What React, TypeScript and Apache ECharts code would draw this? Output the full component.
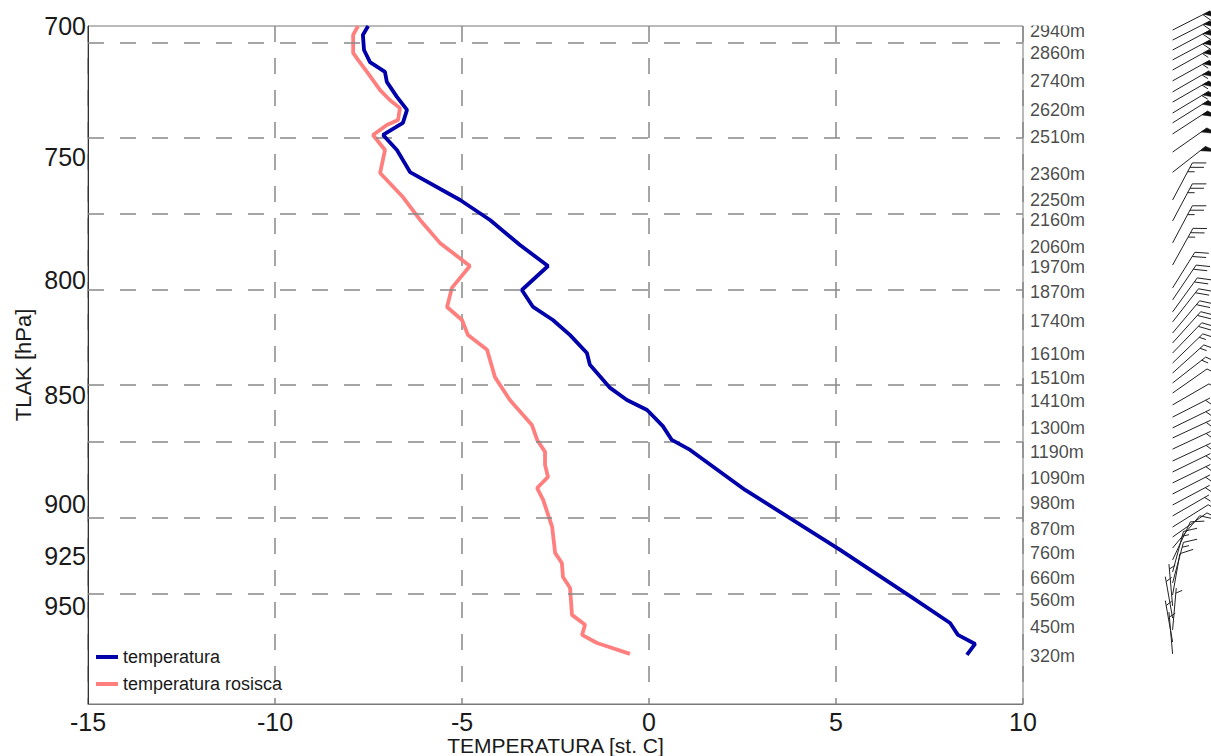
import React, { useEffect, useRef } from 'react';
import * as echarts from 'echarts';

// temperature profile (°C) at pressure levels (hPa)
const tempT = [-7.51, -7.65, -7.62, -7.46, -7.06, -7.01, -6.74, -6.47, -6.58, -7.11, -6.74, -6.39, -5.05, -4.25, -3.45, -2.70, -3.40, -3.10, -2.57, -2.11, -1.66, -1.58, -1.04, -0.59, -0.05, 0.37, 0.61, 1.10, 2.57, 3.64, 5.11, 7.06, 8.05, 8.26, 8.72, 8.50];
const tempP = [700, 703.3, 708.9, 713.4, 717.1, 720.9, 726.6, 731.6, 736.6, 741.3, 747.2, 755.9, 767.1, 775.2, 785.5, 794.2, 804.3, 811.5, 817.1, 823.6, 831.4, 836.6, 846.8, 852.2, 856.7, 864.0, 870.3, 874.9, 893.5, 905.4, 922.1, 945.8, 958.3, 964.3, 968.9, 974.5];

// dew point profile
const dewT = [-7.78, -7.91, -7.91, -7.78, -7.54, -7.19, -6.93, -6.66, -6.71, -7.01, -7.38, -7.06, -7.19, -6.58, -6.12, -5.59, -4.79, -5.27, -5.40, -5.00, -4.84, -4.33, -4.12, -3.72, -3.13, -2.99, -2.78, -2.78, -2.70, -2.99, -2.83, -2.59, -2.51, -2.33, -2.30, -2.11, -2.06, -1.71, -1.79, -1.39, -0.51];
const dewP = [700, 703.3, 710.0, 712.6, 717.1, 724.0, 727.8, 730.9, 735.5, 737.4, 741.3, 747.2, 756.3, 765.9, 775.2, 784.6, 794.2, 803.4, 811.5, 817.1, 823.6, 830.0, 842.0, 852.2, 863.5, 870.3, 875.8, 881.8, 887.4, 892.6, 898.2, 911.0, 923.6, 928.5, 935.4, 940.8, 954.2, 959.2, 964.3, 968.4, 974.0];

// axis
const pressureTicks = [700, 750, 800, 850, 900, 925, 950];
const gridLevelsP = [709.3, 741.3, 775.2, 804.3, 842.0, 875.4, 911.1, 945.8];

// altitude labels
const heightLabels = ['2940m', '2860m', '2740m', '2620m', '2510m', '2360m', '2250m', '2160m', '2060m', '1970m', '1870m', '1740m', '1610m', '1510m', '1410m', '1300m', '1190m', '1090m', '980m', '870m', '760m', '660m', '560m', '450m', '320m'];
const heightP = [701.8, 710.0, 720.5, 731.6, 742.1, 756.7, 767.1, 775.2, 786.3, 794.6, 805.1, 817.5, 831.8, 842.4, 852.6, 864.8, 875.8, 887.9, 899.6, 912.0, 923.6, 935.9, 946.7, 960.4, 975.1];

// wind barbs: pressure (hPa), direction (deg), speed (kt)
const windP = [701.5, 705.2, 708.9, 712.6, 716.4, 720.5, 724.7, 728.6, 732.8, 736.6, 740.9, 748.0, 756.0,
  767.1, 775.6, 784.6, 793.8, 803.4, 808.5, 813.6, 817.9,
  822.7, 827.0, 831.4, 835.8, 840.2, 844.6, 849.1,
  854.4, 859.9, 864.8, 869.4, 874.5, 880.0, 885.1, 890.2, 895.4, 900.6, 905.8, 911.1, 915.9,
  921.2, 927.0, 932.9, 938.3, 944.3, 949.7, 955.8, 961.8, 967.9, 974.0];
const windDir = [63, 63, 62, 62, 61, 61, 60, 60, 59, 58, 57, 55, 52,
  28, 28, 28, 29, 32, 34, 36, 38,
  40, 42, 44, 46, 48, 52, 55,
  60, 63, 64, 65, 65, 65, 64, 64, 63, 62, 60, 58, 55,
  40, 25, 15, 15, 10, 355, 350, 5, 350, 355];
const windSpd = [60, 60, 60, 60, 55, 55, 55, 55, 55, 50, 50, 50, 50,
  25, 25, 25, 25, 20, 20, 20, 20,
  20, 20, 20, 15, 15, 15, 10,
  10, 5, 5, 5, 5, 5, 5, 5, 5, 5, 5, 10, 10,
  10, 10, 15, 15, 10, 5, 5, 5, 5, 5];
const windColumnX = 14;

const FONT = 'Liberation Sans, Arial, Helvetica, sans-serif';
const TXT = '#1a1a1a';
const ln = Math.log;

export default function App() {
  const ref = useRef<HTMLDivElement>(null);
  useEffect(() => {
    const chart = echarts.init(ref.current!, null, { renderer: 'svg' });
    const dash = [16, 16];
    const option: any = {
      animation: false,
      textStyle: { fontFamily: FONT },
      grid: {
        left: 88, right: 188, top: 26, bottom: 52, containLabel: false, outerBoundsMode: 'none',
        show: true, borderColor: '#777', borderWidth: 1, backgroundColor: 'transparent',
      },
      legend: {
        left: 96, top: 648, padding: 0, orient: 'vertical', itemGap: 9, itemWidth: 22, itemHeight: 4,
        selectedMode: false,
        textStyle: { fontSize: 18, color: TXT, fontFamily: FONT },
        data: [{ name: 'temperatura', icon: 'rect' }, { name: 'temperatura rosisca', icon: 'rect' }],
      },
      xAxis: {
        type: 'value', min: -15, max: 10, interval: 5,
        name: 'TEMPERATURA [st. C]', nameLocation: 'middle', nameGap: 31, nameMoveOverlap: false,
        nameTextStyle: { fontSize: 21, color: TXT, fontFamily: FONT },
        axisLine: { show: true, onZero: false, lineStyle: { color: '#777', width: 1 } },
        axisTick: { show: false },
        axisLabel: { fontSize: 25, color: TXT, margin: 5, fontFamily: FONT },
        splitLine: { show: true, lineStyle: { type: dash, color: '#888', width: 1.5 } },
      },
      yAxis: {
        type: 'value', inverse: true, min: ln(700), max: ln(1000),
        name: 'TLAK [hPa]', nameLocation: 'middle', nameGap: 54, nameRotate: 90, nameMoveOverlap: false,
        nameTextStyle: { fontSize: 22, color: TXT, fontFamily: FONT },
        axisLine: { show: true, onZero: false, lineStyle: { color: '#333', width: 1 } },
        axisTick: { show: false },
        splitLine: { show: false },
        axisLabel: {
          customValues: pressureTicks.map((p) => ln(p)),
          formatter: (v: number) => String(Math.round(Math.exp(v))),
          fontSize: 25, color: TXT, margin: 2, fontFamily: FONT,
        },
      },
      graphic: [
        { type: 'rect', z: 100, shape: { x: 1026, y: 0, width: 100, height: 25.5 }, style: { fill: '#fff' } },
      ],
      series: [
        {
          name: 'temperatura', type: 'line', showSymbol: false, symbol: 'none', z: 5,
          lineStyle: { color: '#0000aa', width: 3.8 }, itemStyle: { color: '#0000aa' },
          data: tempT.map((t, i) => [t, ln(tempP[i])]),
          markLine: {
            silent: true, symbol: ['none', 'none'], label: { show: false }, animation: false,
            lineStyle: { type: dash, color: '#888', width: 1.5 },
            emphasis: { disabled: true },
            data: gridLevelsP.map((p) => ({ yAxis: ln(p) })),
          },
        },
        {
          name: 'temperatura rosisca', type: 'line', showSymbol: false, symbol: 'none', z: 4,
          lineStyle: { color: '#ff7f7f', width: 3.8 }, itemStyle: { color: '#ff7f7f' },
          data: dewT.map((t, i) => [t, ln(dewP[i])]),
        },
        {
          name: 'heights', type: 'scatter', symbolSize: 0, clip: false, silent: true,
          data: heightP.map((p, i) => ({ value: [10, ln(p)], name: heightLabels[i] })),
          label: { show: true, position: 'right', distance: 7, formatter: '{b}', fontSize: 18, color: TXT, fontFamily: FONT },
        },
        {
          name: 'wind', type: 'custom', clip: false, silent: true,
          encode: { x: 0, y: 1 },
          data: windP.map((p, i) => [windColumnX, ln(p), windDir[i], windSpd[i]]),
          renderItem: (params: any, api: any) => {
            const o = api.coord([api.value(0), api.value(1)]);
            const d = (api.value(2) * Math.PI) / 180;
            const spd = api.value(3);
            const L = 42;
            const ux = Math.sin(d), uy = -Math.cos(d);
            const tx = o[0] + ux * L, ty = o[1] + uy * L;
            const fa = d + (62 * Math.PI) / 180;
            const fx = Math.sin(fa), fy = -Math.cos(fa);
            const st = { stroke: '#222', lineWidth: 1 };
            const children: any[] = [
              { type: 'line', shape: { x1: o[0], y1: o[1], x2: tx, y2: ty }, style: st },
            ];
            let rem = Math.round(spd / 5) * 5;
            let pos = 0;
            while (rem >= 50) {
              const ax = tx - ux * pos, ay = ty - uy * pos;
              const bx = tx - ux * (pos + 7), by = ty - uy * (pos + 7);
              children.push({
                type: 'polygon',
                shape: { points: [[ax, ay], [bx, by], [ax + fx * 13, ay + fy * 13]] },
                style: { fill: '#111', stroke: '#111', lineWidth: 0.5 },
              });
              pos += 8; rem -= 50;
            }
            while (rem >= 10) {
              const ax = tx - ux * pos, ay = ty - uy * pos;
              children.push({ type: 'line', shape: { x1: ax, y1: ay, x2: ax + fx * 14, y2: ay + fy * 14 }, style: st });
              pos += 5; rem -= 10;
            }
            if (rem >= 5) {
              if (pos === 0) pos = 5;
              const ax = tx - ux * pos, ay = ty - uy * pos;
              children.push({ type: 'line', shape: { x1: ax, y1: ay, x2: ax + fx * 7, y2: ay + fy * 7 }, style: st });
            }
            return { type: 'group', children };
          },
        },
      ],
    };
    chart.setOption(option);
    return () => chart.dispose();
  }, []);
  return <div ref={ref} style={{ position: 'absolute', left: 0, top: 0, width: 1211, height: 756 }} />;
}
